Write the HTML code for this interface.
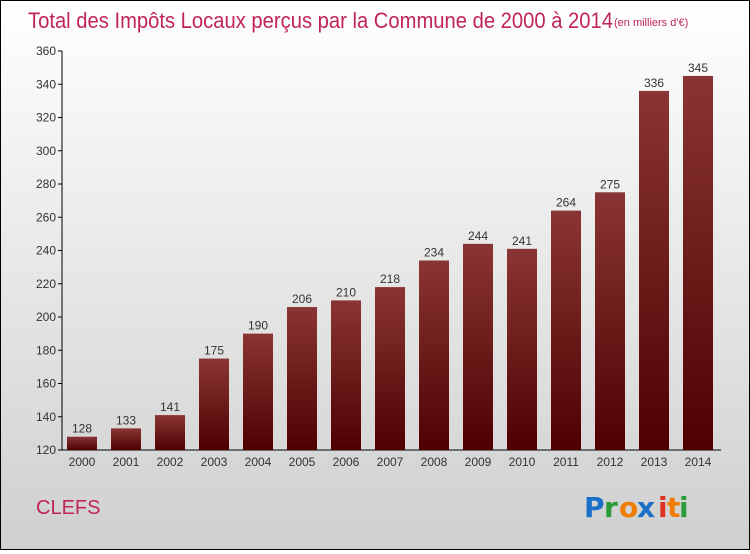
<!DOCTYPE html>
<html><head><meta charset="utf-8"><style>
body{margin:0;width:750px;height:550px;overflow:hidden;font-family:"Liberation Sans",sans-serif}
#wrap{position:relative;width:748px;height:548px;border:1px solid #000;background:linear-gradient(#ffffff,#cfcfcf)}
</style></head><body>
<div id="wrap">
<svg width="748" height="548">
<defs><linearGradient id="g" x1="0" y1="0" x2="0" y2="1"><stop offset="0" stop-color="#8a3535"/><stop offset="1" stop-color="#4e0000"/></linearGradient></defs>
<text x="27" y="27" font-size="22" fill="#c0245a" textLength="585" lengthAdjust="spacingAndGlyphs">Total des Impôts Locaux perçus par la Commune de 2000 à 2014</text>
<text x="613" y="25" font-size="11" fill="#c0245a">(en milliers d'€)</text>
<g id="axes"></g><g id="bars"></g>
<text x="35" y="513" font-size="20" fill="#c0245a">CLEFS</text>
<g font-size="28" font-weight="bold" font-family="'DejaVu Sans',sans-serif">
<text x="583" y="516" fill="#1a6fc9">P</text><text x="603" y="516" fill="#2a9d3a">r</text><text x="618" y="516" fill="#f07d00">o</text><text x="636" y="516" fill="#1a6fc9">x</text><text x="657" y="516" fill="#e03020">i</text><text x="666" y="516" fill="#f07d00">t</text><text x="678" y="516" fill="#2a9d3a">i</text>
</g>
</svg></div>
<script>
const years=["2000","2001","2002","2003","2004","2005","2006","2007","2008","2009","2010","2011","2012","2013","2014"];
const values=[128,133,141,175,190,206,210,218,234,244,241,264,275,336,345];
const yTicks=[120,140,160,180,200,220,240,260,280,300,320,340,360];
const NS="http://www.w3.org/2000/svg";
const y0=449,y1=50,vmin=120,vmax=360,ax=61;
const Y=v=>y0-(v-vmin)*(y0-y1)/(vmax-vmin);
const X=i=>81+i*44;
function el(t,a,p){const e=document.createElementNS(NS,t);for(const k in a)e.setAttribute(k,a[k]);p.appendChild(e);return e;}
const axes=document.getElementById('axes'),bars=document.getElementById('bars');
const yl=el('line',{x1:ax,x2:ax,y1:y1,y2:y0,stroke:'#000'},axes);


const xl=el('line',{x1:ax,x2:720,y1:y0,y2:y0,stroke:'#000'},axes);


yTicks.forEach(v=>{
 el('line',{x1:ax-4,x2:ax,y1:Y(v),y2:Y(v),stroke:'#000'},axes);
 const t=el('text',{x:ax-6,y:Y(v)+4,'font-size':12,fill:'#333','text-anchor':'end'},axes);t.textContent=v;
 
 
});
values.forEach((v,i)=>{
 const r=el('rect',{x:X(i)-15,y:Y(v),width:30,height:y0-Y(v),fill:'url(#g)'},bars);
 
 
 const t=el('text',{x:X(i),y:Y(v)-4,'font-size':12,fill:'#333','text-anchor':'middle'},bars);t.textContent=v;
 
 
 const tx=el('text',{x:X(i),y:y0+16,'font-size':12,fill:'#333','text-anchor':'middle'},bars);tx.textContent=years[i];
 
 
});
</script>
</body></html>
